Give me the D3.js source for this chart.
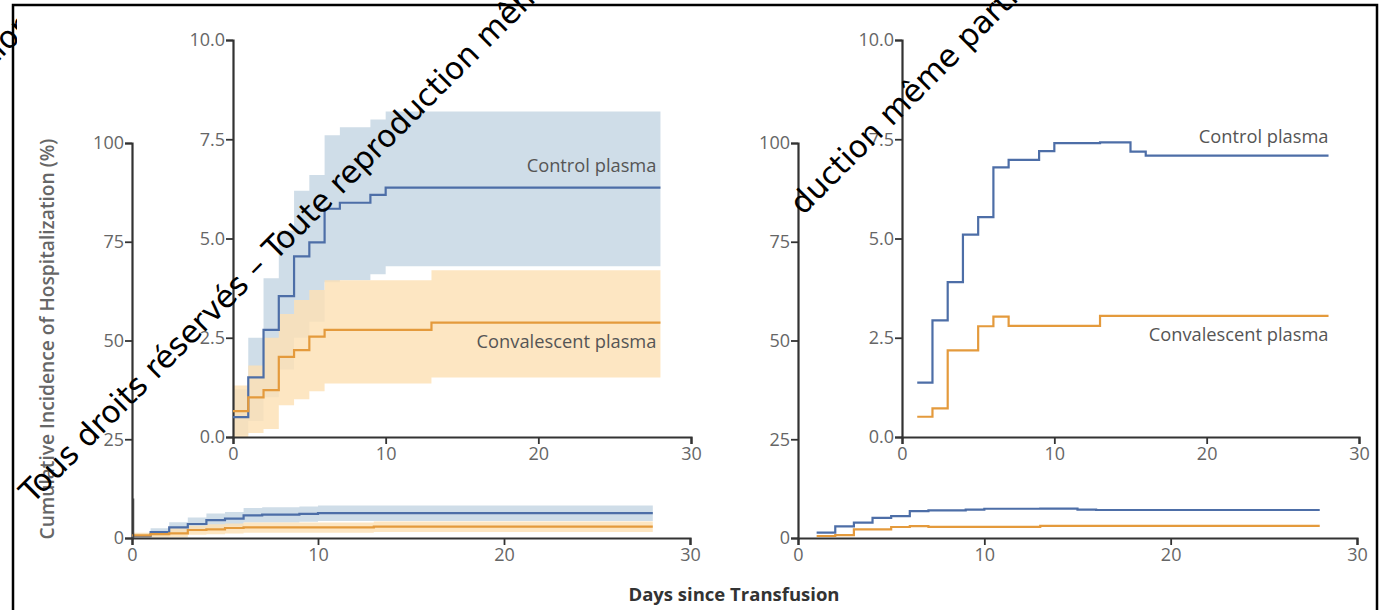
<!DOCTYPE html>
<html>
<head>
<meta charset="utf-8">
<script src="https://cdn.jsdelivr.net/npm/d3@7"></script>
<style>
  html, body { margin: 0; padding: 0; background: #fff; }
  svg { display: block; }
  .tick text, .lbl { font-family: "Open Sans", sans-serif; }
</style>
</head>
<body>
<svg id="chart" width="1384" height="610"></svg>
<script>
// ---- Data (cumulative incidence, percent) ----
// Full trial population: step times (days) and estimates with 95% CI
const ctrlDaysL = [0, 1, 2, 3, 4, 5, 6, 7, 9, 10, 28];
const ctrlPctL  = [0.5, 1.5, 2.7, 3.55, 4.55, 4.9, 5.75, 5.9, 6.1, 6.28, 6.28];
const ctrlLowL  = [0.05, 0.4, 1.0, 1.7, 2.5, 2.9, 3.9, 3.95, 4.1, 4.3, 4.3];
const ctrlHighL = [1.2, 2.5, 4.0, 5.2, 6.2, 6.6, 7.6, 7.8, 8.0, 8.2, 8.2];

const convDaysL = [0, 1, 2, 3, 4, 5, 6, 13, 28];
const convPctL  = [0.65, 1.0, 1.18, 2.02, 2.19, 2.53, 2.7, 2.88, 2.88];
const convLowL  = [0.0, 0.1, 0.2, 0.8, 0.95, 1.15, 1.35, 1.5, 1.5];
const convHighL = [1.3, 1.8, 2.5, 3.1, 3.45, 3.7, 3.95, 4.2, 4.2];

// Second analysis: estimates only
const ctrlDaysR = [1, 2, 3, 4, 5, 6, 7, 9, 10, 13, 15, 16, 28];
const ctrlPctR  = [1.37, 2.94, 3.9, 5.1, 5.54, 6.79, 6.98, 7.2, 7.4, 7.42, 7.19, 7.09, 7.09];
const convDaysR = [1, 2, 3, 5, 6, 7, 13, 28];
const convPctR  = [0.51, 0.72, 2.18, 2.79, 3.03, 2.8, 3.05, 3.05];

const dayTicks   = [0, 10, 20, 30];
const mainTicks  = [0, 25, 50, 75, 100];
const insetTicks = [0, 2.5, 5, 7.5, 10];
const seriesNames = ["Control plasma", "Convalescent plasma"];
const insetRange = [0, 10];

const xTitle = "Days since Transfusion";
const yTitle = "Cumulative Incidence of Hospitalization (%)";
const watermark = "Tous droits réservés – Toute reproduction même partielle interdite";

// ---- Styles ----
const BLUE = "#4d6ea7", ORANGE = "#e49a3c";
const BLUE_BAND = "#cfdde8", ORANGE_BAND = "#fde0b4";
const AXIS = "#333", TICK_TEXT = "#666";

const svg = d3.select("#chart");

function zip(days, vals) { return days.map((d, i) => ({ d, v: vals[i] })); }
function zipBand(days, lo, hi) { return days.map((d, i) => ({ d, lo: lo[i], hi: hi[i] })); }

function drawAxes(g, x, y, yTicks, yFmt) {
  const ax = g.append("g").attr("transform", `translate(0,${y(0)})`)
    .call(d3.axisBottom(x).tickValues(dayTicks).tickSize(7).tickSizeOuter(7).tickPadding(3).tickFormat(d3.format("d")));
  const ay = g.append("g").attr("transform", `translate(${x(0)},0)`)
    .call(d3.axisLeft(y).tickValues(yTicks).tickSize(7).tickSizeOuter(7).tickPadding(1).tickFormat(yFmt));
  [ax, ay].forEach(a => {
    a.select(".domain").attr("stroke", AXIS).attr("stroke-width", 2.2);
    a.selectAll(".tick line").attr("stroke", AXIS).attr("stroke-width", 1.8);
    a.selectAll(".tick text").attr("fill", TICK_TEXT).attr("font-size", 18);
  });
}

function drawBands(g, x, y, bands) {
  const area = d3.area().curve(d3.curveStepAfter)
    .x(p => x(p.d)).y0(p => y(p.lo)).y1(p => y(p.hi));
  bands.forEach(b => g.append("path").datum(b.data)
    .attr("d", area).attr("fill", b.fill).attr("fill-opacity", b.op));
}

function drawLines(g, x, y, lines) {
  const line = d3.line().curve(d3.curveStepAfter).x(p => x(p.d)).y(p => y(p.v));
  lines.forEach(l => g.append("path").datum(l.data)
    .attr("d", line).attr("fill", "none").attr("stroke", l.color).attr("stroke-width", 2.2));
}

// ---- Panel geometry ----
const mainY  = d3.scaleLinear([0, 100], [538, 143]);
const insetY = d3.scaleLinear([0, 10], [437, 40]);
const mainXL  = d3.scaleLinear([0, 30], [132, 690]);
const insetXL = d3.scaleLinear([0, 30], [233, 691]);
const mainXR  = d3.scaleLinear([0, 30], [798, 1357]);
const insetXR = d3.scaleLinear([0, 30], [902, 1359]);

const bandsL = [
  { data: zipBand(ctrlDaysL, ctrlLowL, ctrlHighL), fill: BLUE_BAND, op: 1 },
  { data: zipBand(convDaysL, convLowL, convHighL), fill: ORANGE_BAND, op: 0.82 }
];
const linesL = [
  { data: zip(ctrlDaysL, ctrlPctL), color: BLUE },
  { data: zip(convDaysL, convPctL), color: ORANGE }
];
const linesR = [
  { data: zip(ctrlDaysR, ctrlPctR), color: BLUE },
  { data: zip(convDaysR, convPctR), color: ORANGE }
];

// Left: full-scale panel with inset
const gL = svg.append("g");
drawBands(gL, mainXL, mainY, bandsL);
drawAxes(gL, mainXL, mainY, mainTicks, d3.format("d"));
drawLines(gL, mainXL, mainY, linesL);
// marker for the range shown in the inset
gL.append("line")
  .attr("x1", mainXL(0) + 1.5).attr("x2", mainXL(0) + 1.5)
  .attr("y1", mainY(insetRange[1])).attr("y2", mainY(insetRange[0]))
  .attr("stroke", "#444").attr("stroke-width", 1.5);

const gLi = svg.append("g");
drawBands(gLi, insetXL, insetY, bandsL);
drawAxes(gLi, insetXL, insetY, insetTicks, d3.format(".1f"));
drawLines(gLi, insetXL, insetY, linesL);

// Right: full-scale panel with inset
const gR = svg.append("g");
drawAxes(gR, mainXR, mainY, mainTicks, d3.format("d"));
drawLines(gR, mainXR, mainY, linesR);

const gRi = svg.append("g");
drawAxes(gRi, insetXR, insetY, insetTicks, d3.format(".1f"));
drawLines(gRi, insetXR, insetY, linesR);

// Series labels inside the insets
function seriesLabel(g, x, y, text) {
  g.append("text").attr("class", "lbl")
    .attr("x", x).attr("y", y).attr("text-anchor", "end")
    .attr("font-size", 18.3).attr("fill", "#555").text(text);
}
seriesLabel(gLi, insetXL(28) - 4, insetY(ctrlPctL[ctrlPctL.length - 1]) - 16, seriesNames[0]);
seriesLabel(gLi, insetXL(28) - 4, insetY(convPctL[convPctL.length - 1]) + 25, seriesNames[1]);
seriesLabel(gRi, insetXR(28), insetY(ctrlPctR[ctrlPctR.length - 1]) - 13, seriesNames[0]);
seriesLabel(gRi, insetXR(28), insetY(convPctR[convPctR.length - 1]) + 25, seriesNames[1]);

// Axis titles
svg.append("text").attr("class", "lbl")
  .attr("x", 734).attr("y", 601).attr("text-anchor", "middle")
  .attr("font-size", 18.5).attr("font-weight", 700).attr("fill", "#333")
  .text(xTitle);
svg.append("text").attr("class", "lbl")
  .attr("transform", "translate(54,339) rotate(-90)").attr("text-anchor", "middle")
  .attr("font-size", 19.2).attr("font-weight", 600).attr("fill", "#666")
  .text(yTitle);

// Frame
svg.append("path")
  .attr("d", "M13,620 V5 H1377 V620")
  .attr("fill", "none").attr("stroke", "#000").attr("stroke-width", 2.5);

// Diagonal copyright overlay
const wmFamily = "'DejaVu Sans', sans-serif", wmSize = 31;
const s2 = Math.SQRT1_2;
function textWidth(str) {
  const t = svg.append("text").attr("font-family", wmFamily)
    .attr("font-size", wmSize).text(str);
  const w = t.node().getComputedTextLength();
  t.remove();
  return w;
}
// place the string so that the baseline point `along` px from its start lands on (px, py)
function wmText(parent, str, along, px, py) {
  return parent.append("text")
    .attr("transform", `translate(${px - along * s2},${py + along * s2}) rotate(-45)`)
    .attr("font-family", wmFamily).attr("font-size", wmSize)
    .attr("fill", "#000").text(str);
}
const dashAt = watermark.indexOf("–");
wmText(svg, watermark, textWidth(watermark.slice(0, dashAt)) + textWidth("–") / 2, 256, 281);
wmText(svg, watermark.slice(watermark.indexOf("duction")), 0, 803, 216);
// continuation ending near the top-left corner
svg.append("defs").append("clipPath").attr("id", "wm-clip-c")
  .append("rect").attr("x", 0).attr("y", 0).attr("width", 17).attr("height", 100);
const gC = svg.append("g").attr("clip-path", "url(#wm-clip-c)");
wmText(gC, watermark, textWidth(watermark.slice(0, watermark.indexOf("reproduction") + 10)), 8, 52);
</script>
</body>
</html>
